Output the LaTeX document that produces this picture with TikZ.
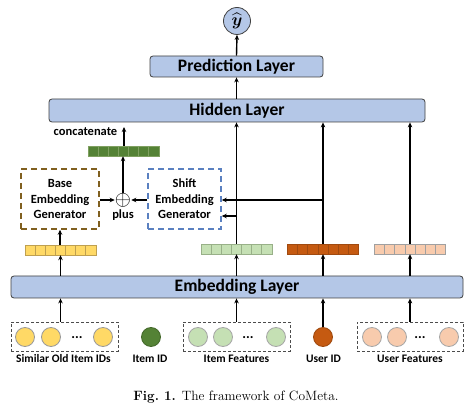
\documentclass[tikz,border=0pt]{standalone}
\usepackage{amsmath}
\usepackage[no-math]{fontspec}
\newfontfamily\carlito{Carlito}
\usetikzlibrary{arrows.meta}
\definecolor{lblue}{HTML}{B4C7E7}
\definecolor{boxedge}{HTML}{404040}
\definecolor{yel}{HTML}{FFD966}
\definecolor{yeledge}{HTML}{BFA050}
\definecolor{dgreen}{HTML}{548235}
\definecolor{dgreenedge}{HTML}{7FA060}
\definecolor{lgreen}{HTML}{C5E0B4}
\definecolor{lgreenedge}{HTML}{98B088}
\definecolor{dorange}{HTML}{C55A11}
\definecolor{dorangeedge}{HTML}{A04A10}
\definecolor{peach}{HTML}{F8CBAD}
\definecolor{peachedge}{HTML}{A0A0A0}
\definecolor{brownd}{HTML}{806020}
\definecolor{blued}{HTML}{5A80C0}
\newcommand{\embvec}[5]{%
  \node[minimum width=71pt,minimum height=10pt,inner sep=0pt] (#1) at (#2,#3) {};
  \foreach \i in {0,...,6}
    \draw[fill=#4,draw=#5,line width=0.8pt] ({#2-35.5+\i*10.143},{#3-5}) rectangle ++(10.143,10);
}
\tikzset{
  layer/.style={draw=boxedge,fill=lblue,rounded corners=3pt,line width=0.8pt,inner sep=0pt,
    font=\carlito\bfseries\fontsize{17.5}{19}\selectfont},
  arr/.style={line width=1.4pt,-{Stealth[length=5pt,width=4.5pt]}},
  genbox/.style={dashed,dash pattern=on 6pt off 4pt,line width=1.5pt,minimum width=#1,minimum height=60pt,
    align=center,font=\carlito\bfseries\fontsize{12.5}{15.5}\selectfont,inner sep=0pt},
  featbox/.style={draw=black!70,dash pattern=on 3pt off 2pt,line width=0.7pt,minimum height=29pt,inner sep=0pt},
  feat/.style={circle,minimum size=19pt,inner sep=0pt,line width=0.8pt},
  lbl/.style={font=\carlito\bfseries\fontsize{11.5}{13}\selectfont,inner sep=0pt},
  dots/.style={font=\carlito\bfseries\fontsize{14}{14}\selectfont,inner sep=0pt}
}
\begin{document}
\begin{tikzpicture}[x=1pt,y=-1pt]
\useasboundingbox (0,0) rectangle (475,412);
% top
\node[circle,draw=boxedge,fill=lblue,line width=0.8pt,minimum size=27pt,inner sep=0pt] (yhat) at (237,21) {\fontsize{17}{17}\selectfont$\widehat{\boldsymbol{y}}$};
\node[layer,minimum width=173pt,minimum height=21pt] (pred) at (236.5,66.5) {Prediction Layer};
\node[layer,minimum width=376pt,minimum height=23pt] (hidden) at (237,110.5) {Hidden Layer};
\node[layer,minimum width=452pt,minimum height=22pt] (emb) at (237,287) {Embedding Layer};
% concat
\embvec{cvec}{123.5}{151}{dgreen}{dgreenedge}
\coordinate (ctop) at (124,127);
\node[font=\carlito\bfseries\fontsize{12.5}{14}\selectfont,inner sep=0pt] (clabel) at (85.5,132) {concatenate};
% generators
\node[genbox=78pt,draw=brownd] (base) at (60,199) {Base\\Embedding\\Generator};
\node[genbox=73pt,draw=blued] (shift) at (184.5,199) {Shift\\Embedding\\Generator};
\node[inner sep=0pt,font=\fontsize{20}{20}\selectfont] (plus) at (123,200) {$\oplus$};
\node[font=\carlito\bfseries\fontsize{12.5}{13}\selectfont,inner sep=0pt] (pluslabel) at (123,215) {plus};
% vectors
\embvec{yvec}{60.5}{250}{yel}{yeledge}
\embvec{gvec}{236.5}{249}{lgreen}{lgreenedge}
\embvec{ovec}{323}{249}{dorange}{dorangeedge}
\embvec{pvec}{410}{249}{peach}{peachedge}
% bottom feature groups
\node[featbox,minimum width=107pt] (simbox) at (64.5,336.5) {};
\node[feat,fill=yel,draw=black!40] (s1) at (25,337) {};
\node[feat,fill=yel,draw=black!40] (s2) at (51,337) {};
\node[dots] (s3) at (77,337.5) {...};
\node[feat,fill=yel,draw=black!40] (s4) at (103,337) {};
\node[feat,fill=dgreen,draw=dgreen!80!black] (itemid) at (151,337) {};
\node[featbox,minimum width=107pt] (ifbox) at (236.5,336.5) {};
\node[feat,fill=lgreen,draw=black!35] (i1) at (198,337) {};
\node[feat,fill=lgreen,draw=black!35] (i2) at (223,337) {};
\node[dots] (i3) at (248,337.5) {...};
\node[feat,fill=lgreen,draw=black!35] (i4) at (276,337) {};
\node[feat,fill=dorange,draw=dorange!80!black] (userid) at (323,337) {};
\node[featbox,minimum width=106pt] (ufbox) at (410,336.5) {};
\node[feat,fill=peach,draw=black!35] (u1) at (372,337) {};
\node[feat,fill=peach,draw=black!35] (u2) at (397,337) {};
\node[dots] (u3) at (420,337.5) {...};
\node[feat,fill=peach,draw=black!35] (u4) at (449,337) {};
% labels
\node[lbl] (l1) at (63.5,359) {Similar Old Item IDs};
\node[lbl] (l2) at (150,359) {Item ID};
\node[lbl] (l3) at (236.5,359) {Item Features};
\node[lbl] (l4) at (323.5,359) {User ID};
\node[lbl] (l5) at (410,359) {User Features};
% caption
\node[inner sep=0pt,font=\fontsize{13.5}{15}\selectfont] (cap) at (236,397) {\textbf{Fig.\ 1.} The framework of CoMeta.};
% arrows top
\draw[arr] (pred.north) -- (yhat.south);
\draw[arr] (hidden.north -| pred.south) -- (pred.south);
\draw[arr] (cvec.north -| ctop) -- (ctop);
\draw[arr] (plus.north) -- (cvec.south -| plus.north);
\draw[arr] (base.east |- plus) -- (plus.west);
\draw[arr] (shift.west |- plus) -- (plus.east);
\draw[arr] (yvec.north -| base.south) -- (base.south);
\draw[arr] (gvec.north) -- (hidden.south -| gvec.north);
\draw[arr] (ovec.north) -- (hidden.south -| ovec.north);
\draw[arr] (pvec.north) -- (hidden.south -| pvec.north);
\coordinate (b1) at (323,200);
\coordinate (b2) at (237,216);
\draw[arr] (b1) -- (shift.east |- b1);
\draw[arr] (b2) -- (shift.east |- b2);
% embedding to vectors
\draw[arr] (emb.north -| yvec.north) -- (yvec.south);
\draw[arr] (emb.north -| gvec.north) -- (gvec.south);
\draw[arr] (emb.north -| ovec.north) -- (ovec.south);
\draw[arr] (emb.north -| pvec.north) -- (pvec.south);
% bottom to embedding
\draw[arr] (simbox.north -| yvec.south) -- (emb.south -| yvec.south);
\draw[arr] (ifbox.north -| gvec.south) -- (emb.south -| gvec.south);
\draw[arr] (userid.north) -- (emb.south -| userid.north);
\draw[arr] (ufbox.north -| pvec.south) -- (emb.south -| pvec.south);
\end{tikzpicture}
\end{document}
